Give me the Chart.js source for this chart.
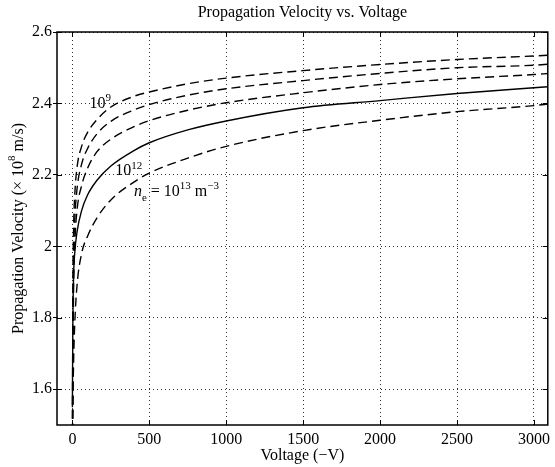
<!DOCTYPE html>
<html>
<head>
<meta charset="utf-8">
<script src="https://cdn.jsdelivr.net/npm/chart.js@4/dist/chart.umd.min.js"></script>
<style>
  html, body { margin: 0; padding: 0; background: #fff; }
  #wrap { width: 555px; height: 467px; position: relative; }
</style>
</head>
<body>
<div id="wrap"><canvas id="chart"></canvas></div>
<script>
// Voltage samples (-V) and propagation velocity (x 10^8 m/s) for each electron density.
const VOLTAGE = [0, 3, 8, 15, 30, 60, 100, 160, 250, 400, 500, 750, 1000, 1500, 2000, 2500, 3000, 3100];
const NE_1E9  = [1.40, 1.85, 2.05, 2.14, 2.22, 2.28, 2.32, 2.355, 2.39, 2.42, 2.432, 2.455, 2.471, 2.492, 2.509, 2.523, 2.533, 2.535];
const NE_1E10 = [1.40, 1.75, 1.97, 2.07, 2.16, 2.23, 2.275, 2.315, 2.35, 2.382, 2.397, 2.423, 2.441, 2.464, 2.484, 2.500, 2.507, 2.510];
const NE_1E11 = [1.40, 1.65, 1.88, 2.00, 2.10, 2.17, 2.22, 2.265, 2.30, 2.335, 2.352, 2.381, 2.402, 2.430, 2.453, 2.469, 2.481, 2.484];
const NE_1E12 = [1.55, 1.78, 1.92, 1.98, 2.04, 2.10, 2.145, 2.185, 2.225, 2.268, 2.29, 2.326, 2.351, 2.388, 2.408, 2.428, 2.444, 2.447];
const NE_1E13 = [1.40, 1.55, 1.68, 1.78, 1.89, 1.98, 2.03, 2.08, 2.13, 2.18, 2.205, 2.247, 2.280, 2.324, 2.353, 2.377, 2.394, 2.399];

const X_TICKS = [0, 500, 1000, 1500, 2000, 2500, 3000];
const Y_TICKS = [1.6, 1.8, 2, 2.2, 2.4, 2.6];

const FONT = "'Liberation Serif', 'Times New Roman', serif";
const FONT_SIZE = 16;
const DASH = [9, 5];

function series(label, values, dashed) {
  return {
    label,
    data: values.map((v, i) => ({ x: VOLTAGE[i], y: v })),
    borderColor: "#000",
    borderWidth: 1.4,
    borderDash: dashed ? DASH : [],
    pointRadius: 0,
    cubicInterpolationMode: "monotone",
    fill: false,
  };
}

// text runs: [string, kind] with kind "", "sup", "sub" or "it"
function runFont(kind, size) {
  if (kind === "sup" || kind === "sub") return `${Math.round(size * 0.68)}px ${FONT}`;
  if (kind === "it") return `italic ${size}px ${FONT}`;
  return `${size}px ${FONT}`;
}

function richWidth(ctx, parts, size) {
  let w = 0;
  for (const [text, kind] of parts) {
    ctx.font = runFont(kind, size);
    w += ctx.measureText(text).width;
  }
  return w;
}

function drawRich(ctx, parts, x, y, size) {
  let cx = x;
  for (const [text, kind] of parts) {
    ctx.font = runFont(kind, size);
    const dy = kind === "sup" ? -size * 0.42 : kind === "sub" ? size * 0.3 : 0;
    ctx.fillText(text, cx, y + dy);
    cx += ctx.measureText(text).width;
  }
}

const TITLE = "Propagation Velocity vs. Voltage";
const X_TITLE = [["Voltage (\u2212V)", ""]];
const Y_TITLE = [["Propagation Velocity (\u00d7 10", ""], ["8", "sup"], [" m/s)", ""]];

// curve labels, anchored in data coordinates [voltage, velocity]
const CURVE_LABELS = [
  { at: [112, 2.387], parts: [["10", ""], ["9", "sup"]] },
  { at: [278, 2.199], parts: [["10", ""], ["12", "sup"]] },
  { at: [400, 2.141], parts: [["n", "it"], ["e", "sub"], [" = 10", ""], ["13", "sup"], [" m", ""], ["\u22123", "sup"]] },
];

const frame = {
  id: "frame",
  afterDraw(chart) {
    const { ctx, chartArea: a, scales: { x, y } } = chart;
    ctx.save();
    ctx.strokeStyle = "#000";
    ctx.lineWidth = 1.5;
    ctx.strokeRect(a.left, a.top, a.right - a.left, a.bottom - a.top);

    // inward tick marks
    ctx.lineWidth = 1;
    ctx.beginPath();
    for (const v of X_TICKS) {
      const px = Math.round(x.getPixelForValue(v)) + 0.5;
      ctx.moveTo(px, a.bottom); ctx.lineTo(px, a.bottom - 5);
      ctx.moveTo(px, a.top); ctx.lineTo(px, a.top + 5);
    }
    for (const v of Y_TICKS) {
      const py = Math.round(y.getPixelForValue(v)) + 0.5;
      ctx.moveTo(a.left, py); ctx.lineTo(a.left + 5, py);
      ctx.moveTo(a.right, py); ctx.lineTo(a.right - 5, py);
    }
    ctx.stroke();

    ctx.fillStyle = "#000";
    ctx.textBaseline = "alphabetic";
    ctx.textAlign = "left";

    for (const lab of CURVE_LABELS) {
      drawRich(ctx, lab.parts, x.getPixelForValue(lab.at[0]), y.getPixelForValue(lab.at[1]), FONT_SIZE);
    }

    const cx = (a.left + a.right) / 2;
    ctx.textBaseline = "middle";
    ctx.font = `${FONT_SIZE}px ${FONT}`;
    const tw = ctx.measureText(TITLE).width;
    ctx.fillText(TITLE, cx - tw / 2, 13);

    const xw = richWidth(ctx, X_TITLE, FONT_SIZE);
    drawRich(ctx, X_TITLE, cx - xw / 2, 456, FONT_SIZE);

    const cy = (a.top + a.bottom) / 2;
    ctx.translate(19, cy);
    ctx.rotate(-Math.PI / 2);
    const yw = richWidth(ctx, Y_TITLE, FONT_SIZE);
    drawRich(ctx, Y_TITLE, -yw / 2, 0, FONT_SIZE);
    ctx.restore();
  },
};

const gridStyle = {
  color: "#333",
  lineWidth: 1,
  tickColor: "#000",
  tickBorderDash: [],
};

new Chart(document.getElementById("chart"), {
  type: "line",
  data: {
    datasets: [
      series("1e9", NE_1E9, true),
      series("1e10", NE_1E10, true),
      series("1e11", NE_1E11, true),
      series("1e12", NE_1E12, false),
      series("1e13", NE_1E13, true),
    ],
  },
  options: {
    responsive: true,
    maintainAspectRatio: false,
    animation: false,
    events: [],
    layout: { padding: { left: 0, top: 32, right: 2, bottom: 0 } },
    scales: {
      x: {
        type: "linear",
        min: -100,
        max: 3090,
        afterBuildTicks: (s) => { s.ticks = X_TICKS.map((v) => ({ value: v })); },
        afterFit: (s) => { s.height = 42; },
        grid: { ...gridStyle, drawTicks: false },
        border: { display: false, dash: [1, 3] },
        ticks: {
          color: "#000",
          font: { family: FONT, size: FONT_SIZE },
          padding: 5,
          maxRotation: 0,
          autoSkip: false,
          callback: (v) => String(v),
        },
      },
      y: {
        type: "linear",
        min: 1.5,
        max: 2.6,
        afterBuildTicks: (s) => { s.ticks = Y_TICKS.map((v) => ({ value: v })); },
        afterFit: (s) => { s.width = 57; },
        grid: { ...gridStyle, drawTicks: true, tickLength: 4 },
        border: { display: false, dash: [1, 3] },
        ticks: {
          color: "#000",
          font: { family: FONT, size: FONT_SIZE },
          padding: 1,
          autoSkip: false,
          callback: (v) => String(Math.round(v * 10) / 10),
        },
      },
    },
    plugins: {
      legend: { display: false },
      title: { display: false },
      tooltip: { enabled: false },
    },
  },
  plugins: [frame],
});
</script>
</body>
</html>
